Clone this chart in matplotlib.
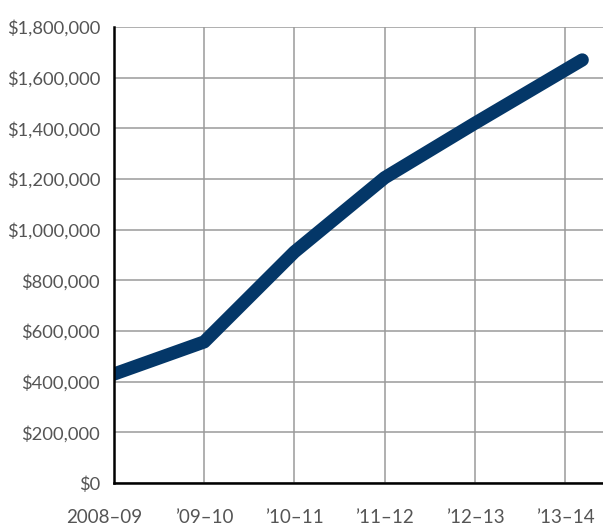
import numpy as np
import matplotlib
matplotlib.use("Agg")
import matplotlib.pyplot as plt
import matplotlib.transforms as mtransforms
from matplotlib.ticker import FuncFormatter

plt.rcParams['font.family'] = ['Lato', 'DejaVu Sans']

# categories shown on the x axis
years = ['2008–09', '’09–10', '’10–11', '’11–12', '’12–13', '’13–14']
# the line's own points (positions in category units)
line_x = [0, 1, 2, 3, 4, 5.19]
line_y = [430000, 557000, 912000, 1205000, 1420000, 1670000]
y_ticks = np.arange(0, 1800001, 200000)

fig = plt.figure(figsize=(6.03, 5.25), dpi=100)
ax = fig.add_axes([0.189, 0.08, 0.811, 0.8686])

ax.plot(line_x, line_y, color='#043768', linewidth=9.5,
        solid_capstyle='round', solid_joinstyle='round', zorder=5)

ax.set_xlim(0, 5.42)
ax.set_ylim(0, 1800000)
ax.set_xticks(range(len(years)))
ax.set_xticklabels(years)
ax.set_yticks(y_ticks)
ax.yaxis.set_major_formatter(FuncFormatter(lambda v, p: f'${v:,.0f}'))

ax.grid(True, color='#9a9a9a', linewidth=1.1)
ax.set_axisbelow(True)
for s in ['top', 'right']:
    ax.spines[s].set_visible(False)
for s in ['left', 'bottom']:
    ax.spines[s].set_color('black')
    ax.spines[s].set_linewidth(1.8)
    ax.spines[s].set_zorder(6)

ax.tick_params(axis='y', length=0, labelsize=13.2, labelcolor='#555555', pad=10)
ax.tick_params(axis='x', length=0, labelsize=13.5, labelcolor='#555555', pad=19)

# first year label sits a bit left of its gridline in the original
first = ax.get_xticklabels()[0]
first.set_transform(first.get_transform() +
                    mtransforms.ScaledTranslation(-10 / 100, 0, fig.dpi_scale_trans))

fig.savefig('out.png', dpi=100)
